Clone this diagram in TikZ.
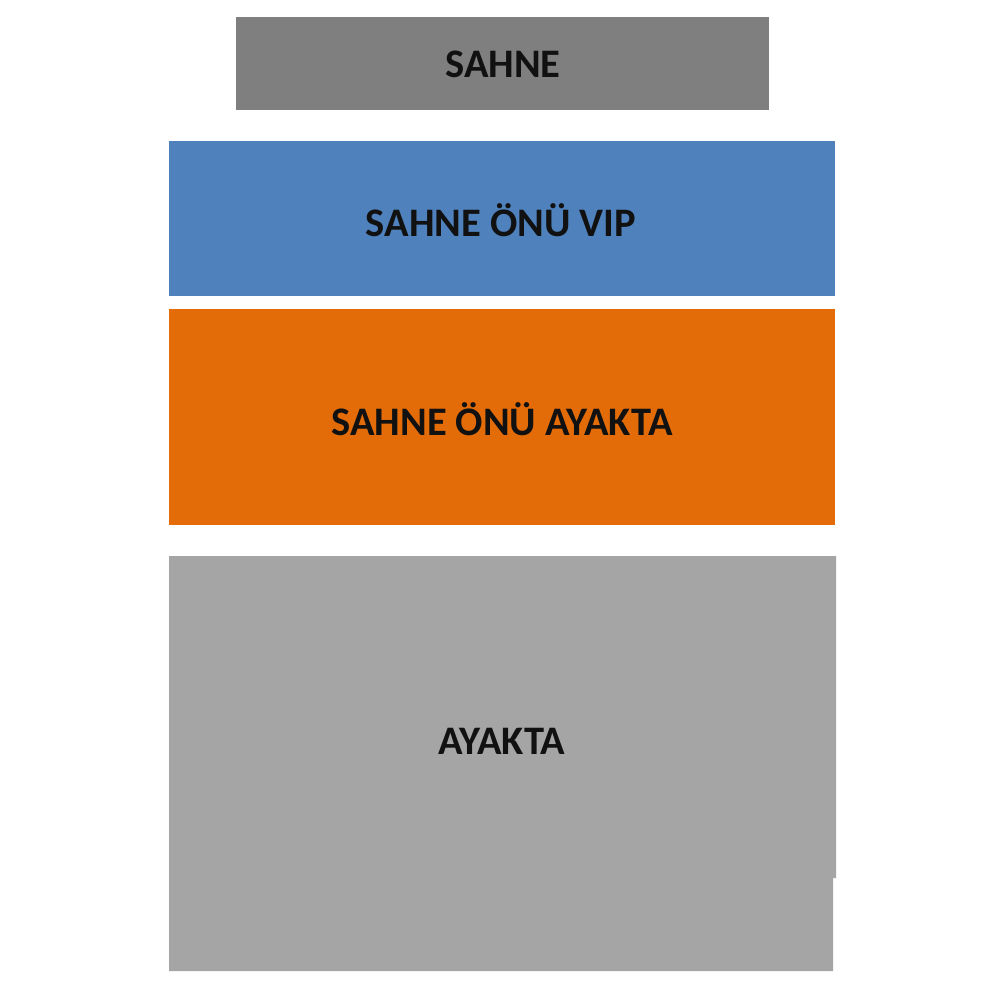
\documentclass[tikz,border=0pt]{standalone}
\usepackage{fontspec}
\setmainfont{Carlito}
\definecolor{stagegray}{HTML}{7F7F7F}
\definecolor{vipblue}{HTML}{4F81BD}
\definecolor{frontorange}{HTML}{E36C09}
\definecolor{standgray}{HTML}{A5A5A5}
\definecolor{labelink}{HTML}{111111}
\begin{document}
\begin{tikzpicture}[x=1pt,y=-1pt,
  zone/.style={draw=none,inner sep=0pt,outer sep=0pt,font=\fontsize{40.5}{44}\selectfont\bfseries,text=labelink}]
\useasboundingbox[fill=white] (0,0) rectangle (1000,1000);
\fill[stagegray] (236,17) rectangle (769,110);
\node[zone] (sahne) at (503,64) {SAHNE};
\fill[vipblue] (169,141) rectangle (835,296);
\node[zone] (vip) at (501,220) {SAHNE ÖNÜ VIP};
\fill[frontorange] (169,309) rectangle (835,525);
\node[zone] (onu) at (502,419) {SAHNE ÖNÜ AYAKTA};
\fill[standgray] (169,556) -- (836,556) -- (836,878) -- (833,878) -- (833,971) -- (169,971) -- cycle;
\node[zone] (ayakta) at (502,741) {AYAKTA};
\end{tikzpicture}
\end{document}
